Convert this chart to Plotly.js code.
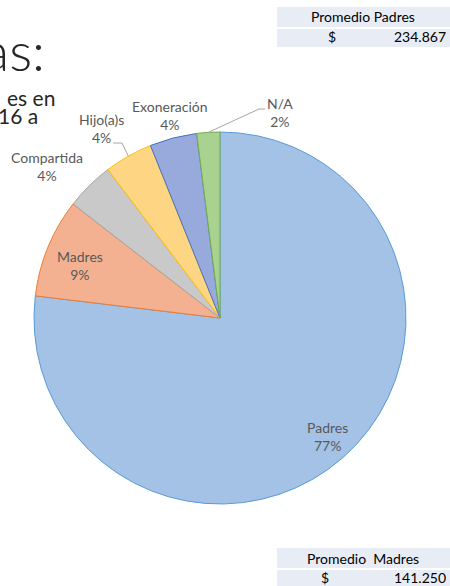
<!DOCTYPE html>
<html>
<head>
<meta charset="utf-8">
<script src="https://cdn.plot.ly/plotly-3.0.1.min.js"></script>
<style>html,body{margin:0;padding:0;background:#fff;}#chart{width:450px;height:586px;}</style>
</head>
<body>
<div id="chart"></div>
<script>
// ---- data ----
const categories = ['Padres', 'Madres', 'Compartida', 'Hijo(a)s', 'Exoneración', 'N/A'];
const shares = [76.9, 8.6, 4.2, 4.2, 4.1, 2.0];
const tableTitles = ['Promedio Padres', 'Promedio  Madres'];
const tableCurrency = ['$', '$'];
const tableValues = ['234.867', '141.250'];
const slideTexts = ['as:', 'es en', '16 a'];

// ---- styles / layout constants ----
const W = 450, H = 586;
const fills = ['#A3C2E6', '#F4B192', '#C9C9C9', '#FED582', '#98AADB', '#A9D18F'];
const borders = ['#5B9BD5', '#ED7D31', '#A5A5A5', '#FFC000', '#4472C4', '#70AD47'];
const cx = 220, cy = 318, R = 186;
// label centres in pixels (layout)
const labelPos = [[327, 436], [80, 265], [47, 166], [101, 128], [170, 115], [280, 113]];
const px = x => x / W;
const py = y => 1 - y / H;

const total = shares.reduce((a, b) => a + b, 0);
const annotations = [];
const shapes = [];

// data labels
categories.forEach((c, i) => {
  annotations.push({
    xref: 'paper', yref: 'paper', x: px(labelPos[i][0]), y: py(labelPos[i][1]),
    xanchor: 'center', yanchor: 'middle', showarrow: false,
    text: c + '<br>' + Math.round(shares[i] / total * 100) + '%',
    font: {family: 'Lato, sans-serif', size: 14, color: '#595959'}
  });
});

// leader lines for Hijo(a)s and N/A (from slice edge mid-angle to label)
let cum = 0;
const mids = shares.map(v => { const m = cum + v / 2; cum += v; return m / total * 2 * Math.PI; });
function edge(i) { return [cx + R * Math.sin(mids[i]), cy - R * Math.cos(mids[i])]; }
const hi = categories.indexOf('Hijo(a)s');
const e1 = edge(hi);
shapes.push({type: 'path', xref: 'paper', yref: 'paper',
  path: `M ${px(113)} ${py(143)} L ${px(122)} ${py(143)} L ${px(e1[0])} ${py(e1[1])}`,
  line: {color: '#A6A6A6', width: 1}});
const na = categories.indexOf('N/A');
const e2 = edge(na);
shapes.push({type: 'path', xref: 'paper', yref: 'paper',
  path: `M ${px(e2[0])} ${py(e2[1])} L ${px(259)} ${py(109)} L ${px(265)} ${py(109)}`,
  line: {color: '#A6A6A6', width: 1}});

// tables
const tableTop = [7, 548];
const dollarX = [332, 325];
tableTitles.forEach((t, k) => {
  const y0 = tableTop[k];
  shapes.push({type: 'rect', xref: 'paper', yref: 'paper', x0: px(277), x1: px(450), y0: py(y0), y1: py(y0 + 20), fillcolor: '#E8ECF5', line: {width: 0}, layer: 'below'});
  shapes.push({type: 'rect', xref: 'paper', yref: 'paper', x0: px(277), x1: px(450), y0: py(y0 + 22), y1: py(y0 + 40), fillcolor: '#E8ECF5', line: {width: 0}, layer: 'below'});
  annotations.push({xref: 'paper', yref: 'paper', x: px(363), y: py(y0 + 10), xanchor: 'center', yanchor: 'middle', showarrow: false,
    text: t.replace(/  /g, ' &nbsp;'), font: {family: 'Lato, sans-serif', size: 14, color: '#000'}});
  annotations.push({xref: 'paper', yref: 'paper', x: px(dollarX[k]), y: py(y0 + 29.5), xanchor: 'center', yanchor: 'middle', showarrow: false,
    text: tableCurrency[k], font: {family: 'Lato, sans-serif', size: 14, color: '#000'}});
  annotations.push({xref: 'paper', yref: 'paper', x: px(448), y: py(y0 + 29.5), xanchor: 'right', yanchor: 'middle', showarrow: false,
    text: tableValues[k], font: {family: 'Lato, sans-serif', size: 14, color: '#000'}});
});

// slide text fragments (cut at the left edge)
const slidePos = [[47, 50, 54, 300], [57, 97, 21, 400], [40, 115, 21, 400]];
slideTexts.forEach((t, k) => {
  annotations.push({xref: 'paper', yref: 'paper', x: px(slidePos[k][0]), y: py(slidePos[k][1]), xanchor: 'right', yanchor: 'middle', showarrow: false,
    text: t, font: {family: 'Lato, sans-serif', size: slidePos[k][2], weight: slidePos[k][3], color: '#262626'}});
});

const trace = {
  type: 'pie', labels: categories, values: shares, sort: false, direction: 'clockwise', rotation: 0,
  textinfo: 'none', hoverinfo: 'skip',
  marker: {colors: fills, line: {color: borders, width: 1}},
  domain: {x: [px(cx - R), px(cx + R)], y: [py(cy + R), py(cy - R)]}
};

const layout = {
  width: W, height: H, margin: {l: 0, r: 0, t: 0, b: 0},
  paper_bgcolor: '#fff', showlegend: false,
  annotations: annotations, shapes: shapes
};
Plotly.newPlot('chart', [trace], layout, {displayModeBar: false, staticPlot: true});
</script>
</body>
</html>
